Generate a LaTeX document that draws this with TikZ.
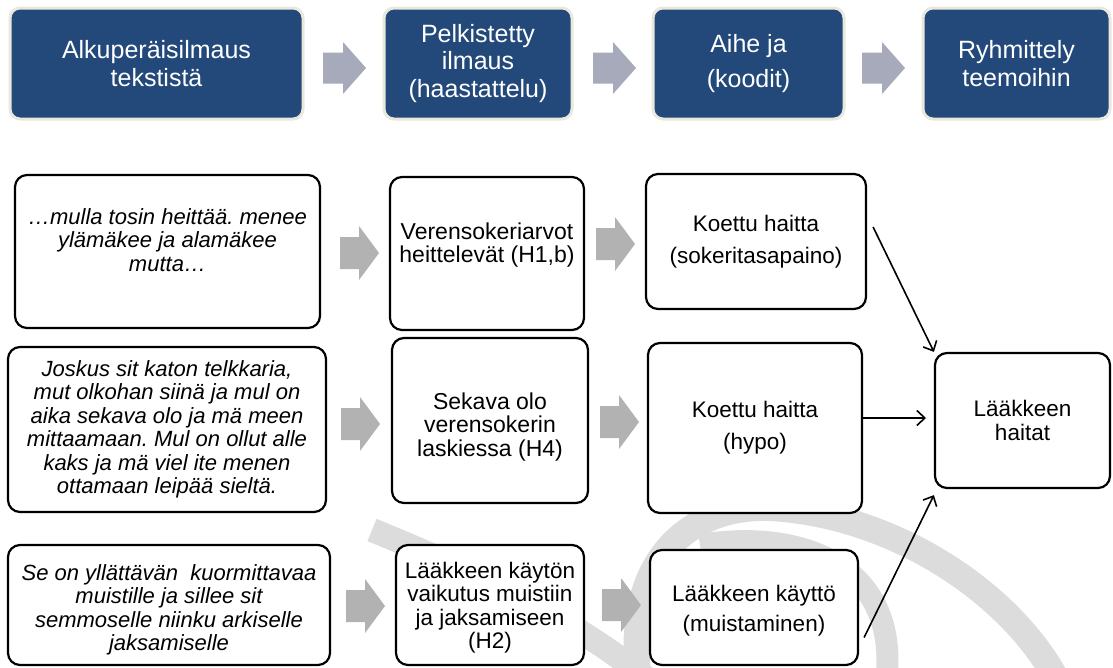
\documentclass[tikz,border=0pt]{standalone}
\usepackage{fontspec}
\setmainfont{Liberation Sans}
\usetikzlibrary{arrows.meta,calc}
\frenchspacing
\definecolor{hdrblue}{RGB}{35,73,122}
\definecolor{hdrrim}{RGB}{234,232,220}
\definecolor{hdrarrow}{RGB}{166,170,186}
\definecolor{rowarrow}{RGB}{178,178,178}
\definecolor{wmark}{RGB}{220,220,220}
\begin{document}
\begin{tikzpicture}[x=1pt,y=-1pt,
  hdr/.style={draw=hdrrim, line width=3pt, fill=hdrblue, rounded corners=10pt,
    text=white, align=center, inner sep=0pt, font=\fontsize{25}{27.5}\selectfont},
  rowbox/.style={draw=black, line width=2.2pt, fill=white, rounded corners=12pt,
    align=center, inner sep=0pt},
  quotebox/.style={rowbox, font=\fontsize{22}{23.5}\selectfont\itshape},
  midbox/.style={rowbox, font=\fontsize{23}{23.5}\selectfont},
  codebox/.style={rowbox, font=\fontsize{22.5}{32}\selectfont},
  wband/.style={draw=wmark, line width=26pt},
  link/.style={draw=black, line width=1.6pt,
    -{Straight Barb[length=8pt,width=15pt,line width=1.6pt]}},
  harrow/.pic={\fill[pic actions] (-20,-15.5) -- (0,-15.5) -- (0,-26) -- (23,0)
      -- (0,26) -- (0,15.5) -- (-20,15.5) -- cycle;},
  rarrow/.pic={\fill[pic actions] (-19,-16) -- (0,-16) -- (0,-27) -- (20,0)
      -- (0,27) -- (0,16) -- (-19,16) -- cycle;}
]
\useasboundingbox (0,0) rectangle (1113,667);
\fill[white] (0,0) rectangle (1113,667);

% watermark
\begin{scope}
\clip (0,0) rectangle (1113,667);
\draw[wband] (640,690) .. controls (620,560) and (690,505) .. (770,508)
  .. controls (900,515) and (1020,600) .. (1062,690);
\draw[wband, line width=22pt] (700,545) .. controls (800,528) and (905,565) .. (885,690);
\draw[wband, line width=24pt] (372,530) .. controls (470,570) and (580,620) .. (660,690);
\end{scope}

% header
\node[hdr, minimum width=293pt, minimum height=111pt] (h1) at (156.5,63.5) {Alkuperäisilmaus\\tekstistä};
\node[hdr, minimum width=188pt, minimum height=111pt] (h2) at (478,63.5) {Pelkistetty\\ilmaus\\(haastattelu)};
\node[hdr, minimum width=191pt, minimum height=111pt] (h3) at (748.5,63.5) {Aihe ja\\[7pt](koodit)};
\node[hdr, minimum width=187pt, minimum height=111pt] (h4) at (1016.5,63.5) {Ryhmittely\\teemoihin};
\pic[fill=hdrarrow] (ha1) at (343,68) {harrow};
\pic[fill=hdrarrow] (ha2) at (613,68) {harrow};
\pic[fill=hdrarrow] (ha3) at (882,68) {harrow};

% row 1
\node[quotebox, minimum width=305pt, minimum height=153pt] (q1) at (167.5,251.5)
  {…mulla tosin heittää. menee\\ylämäkee ja alamäkee\\mutta…\\[0pt]};
\node[midbox, minimum width=194pt, minimum height=153pt] (m1) at (487,253.5)
  {Verensokeriarvot\\heittelevät (H1,b)\\[-1.5pt]};
\node[codebox, minimum width=220pt, minimum height=135pt] (c1) at (756,241.5)
  {Koettu haitta\\(sokeritasapaino)};
\pic[fill=rowarrow] (ra11) at (359,253) {rarrow};
\pic[fill=rowarrow] (ra12) at (615,244) {rarrow};

% row 2
\node[quotebox, minimum width=318pt, minimum height=165pt] (q2) at (167,429.5)
  {Joskus sit katon telkkaria,\\mut olkohan siinä ja mul on\\aika sekava olo ja mä meen\\mittaamaan. Mul on ollut alle\\kaks ja mä viel ite menen\\ottamaan leipää sieltä.};
\node[midbox, minimum width=196pt, minimum height=165pt] (m2) at (490,420.5)
  {\rule{0pt}{29pt}Sekava olo\\verensokerin\\laskiessa (H4)};
\node[codebox, minimum width=214pt, minimum height=170pt] (c2) at (755,428)
  {Koettu haitta\\(hypo)};
\node[rowbox, font=\fontsize{22.5}{24}\selectfont, minimum width=175pt, minimum height=135pt] (lh) at (1022.5,420.5)
  {Lääkkeen\\haitat};
\pic[fill=rowarrow] (ra21) at (360,424) {rarrow};
\pic[fill=rowarrow] (ra22) at (619,422) {rarrow};

% row 3
\node[quotebox, minimum width=322pt, minimum height=120pt] (q3) at (169,605)
  {\rule{0pt}{26pt}Se on yllättävän\ \ kuormittavaa\\muistille ja sillee sit\\semmoselle niinku arkiselle\\jaksamiselle};
\node[midbox, font=\fontsize{22.5}{23.5}\selectfont, minimum width=188pt, minimum height=120pt] (m3) at (490,605)
  {\rule{0pt}{22pt}Lääkkeen käytön\\vaikutus muistiin\\ja jaksamiseen\\(H2)};
\node[codebox, font=\fontsize{22.5}{30}\selectfont, minimum width=208pt, minimum height=115pt] (c3) at (754,607.5)
  {\rule{0pt}{22pt}Lääkkeen käyttö\\(muistaminen)};
\pic[fill=rowarrow] (ra31) at (365,606) {rarrow};
\pic[fill=rowarrow] (ra32) at (621,605) {rarrow};

% connectors
\coordinate (lhin) at (926,418);
\draw[link] ([xshift=6pt,yshift=14.5pt]c1.east) -- (lh.north west);
\draw[link] ([yshift=10pt]c2.east) -- (lhin);
\draw[link] ([xshift=5pt,yshift=-30pt]c3.east) -- ([yshift=-6pt]lh.south west);
\end{tikzpicture}
\end{document}
